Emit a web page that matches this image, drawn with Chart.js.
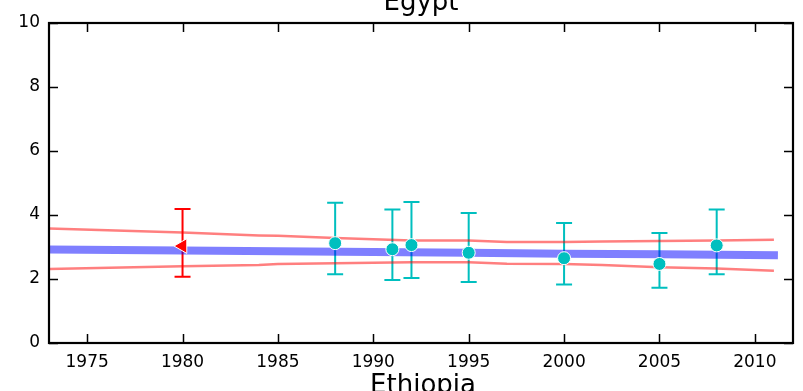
<!DOCTYPE html>
<html>
<head>
<meta charset="utf-8">
<script src="https://cdn.jsdelivr.net/npm/chart.js@4.4.1/dist/chart.umd.min.js"></script>
<style>
  html, body { margin: 0; padding: 0; background: #fff; overflow: hidden; }
  canvas { display: block; }
</style>
</head>
<body>
<canvas id="chart" width="803" height="391"></canvas>
<script>
// axis ticks
const xTickValues = [1975, 1980, 1985, 1990, 1995, 2000, 2005, 2010];
const yTickValues = [0, 2, 4, 6, 8, 10];

// survey estimates (teal) with error bars
const surveyYears = [1988, 1991, 1992, 1995, 2000, 2005, 2008];
const surveyValues = [3.12, 2.93, 3.06, 2.82, 2.65, 2.47, 3.05];
const surveyLow = [2.15, 1.97, 2.03, 1.91, 1.83, 1.73, 2.15];
const surveyHigh = [4.38, 4.17, 4.41, 4.06, 3.75, 3.44, 4.17];

// other estimate (red triangle)
const otherYears = [1980];
const otherValues = [3.03];
const otherLow = [2.07];
const otherHigh = [4.19];

// fitted trend and uncertainty band
const trendYears = [1973, 1980, 1985, 1990, 1995, 2000, 2005, 2011];
const trendValues = [2.92, 2.89, 2.87, 2.84, 2.82, 2.79, 2.77, 2.74];
const bandYears = [1973, 1980, 1984, 1985, 1988, 1990, 1992, 1995, 1997, 2000, 2002, 2005, 2008, 2011];
const bandUpper = [3.58, 3.45, 3.36, 3.35, 3.28, 3.24, 3.20, 3.20, 3.16, 3.16, 3.17, 3.19, 3.20, 3.23];
const bandLower = [2.31, 2.40, 2.44, 2.47, 2.49, 2.51, 2.52, 2.52, 2.48, 2.47, 2.44, 2.37, 2.33, 2.26];

const TEAL = '#00bfbf';
const RED = '#ff0000';
const FONT = 'DejaVu Sans';

const pts = (xs, ys) => xs.map((x, i) => ({ x, y: ys[i] }));

// vertical error bars with caps, drawn under everything else
const errorBarPlugin = {
  id: 'errorBars',
  beforeDatasetsDraw(chart) {
    const { ctx, chartArea, scales: { x, y } } = chart;
    const groups = [
      { xs: surveyYears, lo: surveyLow, hi: surveyHigh, color: TEAL },
      { xs: otherYears, lo: otherLow, hi: otherHigh, color: RED }
    ];
    ctx.save();
    ctx.beginPath();
    ctx.rect(chartArea.left, chartArea.top, chartArea.width, chartArea.height);
    ctx.clip();
    ctx.lineWidth = 2;
    groups.forEach(g => {
      ctx.strokeStyle = g.color;
      g.xs.forEach((yr, i) => {
        const px = x.getPixelForValue(yr);
        const top = y.getPixelForValue(g.hi[i]);
        const bot = y.getPixelForValue(g.lo[i]);
        ctx.beginPath();
        ctx.moveTo(px, top); ctx.lineTo(px, bot);
        ctx.moveTo(px - 8, top); ctx.lineTo(px + 8, top);
        ctx.moveTo(px - 8, bot); ctx.lineTo(px + 8, bot);
        ctx.stroke();
      });
    });
    ctx.restore();
  }
};

// box frame, inward ticks on all four sides, subplot titles
const framePlugin = {
  id: 'frame',
  afterDraw(chart) {
    const { ctx, chartArea: a, scales: { x, y } } = chart;
    ctx.save();
    ctx.strokeStyle = '#000';
    ctx.lineWidth = 1.5;
    ctx.beginPath();
    xTickValues.forEach(v => {
      const px = Math.round(x.getPixelForValue(v)) + 0.5;
      ctx.moveTo(px, a.bottom); ctx.lineTo(px, a.bottom - 9);
      ctx.moveTo(px, a.top); ctx.lineTo(px, a.top + 9);
    });
    yTickValues.forEach(v => {
      const py = Math.round(y.getPixelForValue(v)) + 0.5;
      ctx.moveTo(a.left, py); ctx.lineTo(a.left + 9, py);
      ctx.moveTo(a.right, py); ctx.lineTo(a.right - 9, py);
    });
    ctx.stroke();
    ctx.lineWidth = 2.2;
    ctx.strokeRect(a.left, a.top, a.width, a.height);

    ctx.fillStyle = '#000';
    ctx.font = `26px "${FONT}"`;
    ctx.textAlign = 'center';
    ctx.textBaseline = 'alphabetic';
    const cx = (a.left + a.right) / 2;
    ctx.fillText('Egypt', cx, a.top - 13);
    ctx.fillText('Ethiopia', cx + 2, a.bottom + 50);
    ctx.restore();
  }
};

new Chart(document.getElementById('chart'), {
  type: 'scatter',
  data: {
    datasets: [
      {
        label: 'surveys',
        data: pts(surveyYears, surveyValues),
        backgroundColor: TEAL,
        borderColor: '#fff',
        borderWidth: 1,
        pointRadius: 6.5,
        showLine: false,
        order: 0
      },
      {
        label: 'other',
        data: pts(otherYears, otherValues),
        backgroundColor: RED,
        borderColor: '#fff',
        borderWidth: 1,
        pointStyle: 'triangle',
        rotation: -90,
        pointRadius: 8.5,
        showLine: false,
        order: 0
      },
      {
        label: 'trend',
        type: 'line',
        data: pts(trendYears, trendValues),
        borderColor: 'rgba(0,0,255,0.5)',
        borderWidth: 8,
        borderCapStyle: 'square',
        pointRadius: 0,
        tension: 0,
        order: 2
      },
      {
        label: 'upper',
        type: 'line',
        data: pts(bandYears, bandUpper),
        borderColor: 'rgba(255,0,0,0.5)',
        borderWidth: 2.5,
        pointRadius: 0,
        tension: 0,
        order: 1
      },
      {
        label: 'lower',
        type: 'line',
        data: pts(bandYears, bandLower),
        borderColor: 'rgba(255,0,0,0.5)',
        borderWidth: 2.5,
        pointRadius: 0,
        tension: 0,
        order: 1
      }
    ]
  },
  options: {
    responsive: false,
    animation: false,
    events: [],
    layout: { padding: { top: 23, right: 10, left: 0, bottom: 0 } },
    plugins: { legend: { display: false }, tooltip: { enabled: false }, title: { display: false } },
    scales: {
      x: {
        type: 'linear',
        min: 1973,
        max: 2012,
        grid: { display: false, drawTicks: false },
        border: { display: false },
        afterBuildTicks: s => { s.ticks = xTickValues.map(v => ({ value: v })); },
        afterFit: s => { s.height = 48; },
        ticks: { color: '#000', padding: 9, maxRotation: 0, font: { family: FONT, size: 17 }, callback: v => String(v) }
      },
      y: {
        type: 'linear',
        min: 0,
        max: 10,
        grid: { display: false, drawTicks: false },
        border: { display: false },
        afterBuildTicks: s => { s.ticks = yTickValues.map(v => ({ value: v })); },
        afterFit: s => { s.width = 49; },
        ticks: { color: '#000', padding: 9, font: { family: FONT, size: 17 }, callback: v => String(v) }
      }
    }
  },
  plugins: [errorBarPlugin, framePlugin]
});
</script>
</body>
</html>
